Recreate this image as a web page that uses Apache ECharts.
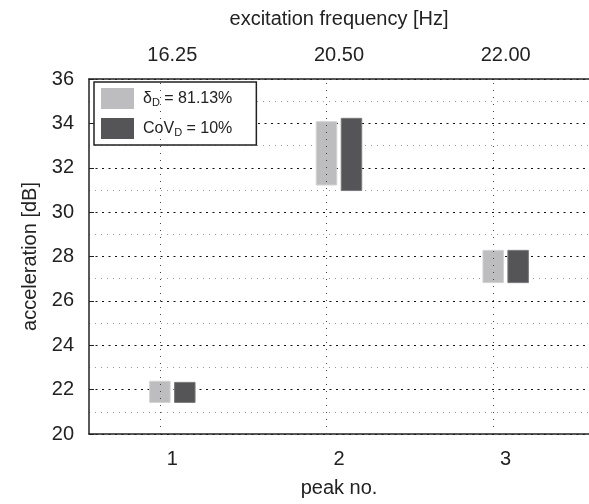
<!DOCTYPE html>
<html>
<head>
<meta charset="utf-8">
<script src="https://cdn.jsdelivr.net/npm/echarts@6/dist/echarts.min.js"></script>
<style>
html,body{margin:0;padding:0;background:#fff;}
#chart{width:589px;height:504px;}
</style>
</head>
<body>
<div id="chart"></div>
<script>
// 数据
var peakNo = ['1', '2', '3'];
var freqLabels = ['16.25', '20.50', '22.00'];
var lightLow = [21.4, 31.2, 26.8];
var lightHigh = [22.4, 34.1, 28.3];
var darkLow = [21.4, 30.95, 26.8];
var darkHigh = [22.35, 34.25, 28.3];

var lightName = 'delta';
var darkName = 'cov';

function span(lo, hi){
	var out = [];
	for(var i=0;i<lo.length;i++){
		out.push(+(hi[i]-lo[i]).toFixed(3));
	}
	return out;
}

var chart = echarts.init(document.getElementById('chart'));
var font = 'Liberation Sans, Arial, sans-serif';

var option = {
	animation: false,
	backgroundColor: '#fff',
	textStyle: {fontFamily: font},
	grid: {left: 89, top: 79, bottom: 70, right: -5},
	legend: {
		data: [lightName, darkName],
		orient: 'vertical',
		left: 94,
		top: 82,
		itemWidth: 33,
		itemHeight: 21,
		itemGap: 9,
		padding: [6, 24, 6, 7],
		backgroundColor: '#fff',
		borderColor: '#222',
		borderWidth: 1.5,
		borderRadius: 0,
		icon: 'rect',
		itemStyle: {borderWidth: 0},
		formatter: function(name){
			if(name==lightName) return '{m|δ}{s|D}{m| = 81.13%}';
			return '{m|CoV}{s|D}{m| = 10%}';
		},
		textStyle: {
			padding: [0, 0, 0, 4],
			rich: {
				m: {fontSize: 16, color: '#222', fontFamily: font},
				s: {fontSize: 11, color: '#222', fontFamily: font, padding: [9, 0, 0, 0]}
			}
		}
	},
	xAxis: [
		{
			type: 'category',
			data: peakNo,
			position: 'bottom',
			name: 'peak no.',
			nameLocation: 'middle',
			nameGap: 44,
			nameTextStyle: {fontSize: 20, color: '#222'},
			axisLine: {lineStyle: {color: '#222', width: 1.5}},
			axisTick: {inside: true, alignWithLabel: true, length: 5, lineStyle: {color: '#222'}},
			axisLabel: {fontSize: 20, color: '#222', margin: 15},
			splitLine: {show: false}
		},
		{
			type: 'category',
			data: freqLabels,
			position: 'top',
			name: 'excitation frequency [Hz]',
			nameLocation: 'middle',
			nameGap: 50,
			nameTextStyle: {fontSize: 20, color: '#222'},
			axisLine: {lineStyle: {color: '#222', width: 1.5}},
			axisTick: {inside: true, alignWithLabel: true, length: 5, lineStyle: {color: '#222'}},
			axisLabel: {fontSize: 20, color: '#222', margin: 14},
			splitLine: {show: false}
		}
	],
	yAxis: {
		type: 'value',
		min: 20,
		max: 36,
		interval: 2,
		name: 'acceleration [dB]',
		nameLocation: 'middle',
		nameGap: 42,
		nameTextStyle: {fontSize: 20, color: '#222'},
		axisLine: {show: true, lineStyle: {color: '#222', width: 1.5}},
		axisTick: {show: true, inside: true, length: 5, lineStyle: {color: '#222'}},
		axisLabel: {fontSize: 20, color: '#222', margin: 15},
		splitLine: {show: true, lineStyle: {color: '#111', width: 1.2, type: [2, 4.5]}},
		minorTick: {show: false, splitNumber: 2},
		minorSplitLine: {show: true, lineStyle: {color: '#999', width: 1, type: [1, 5]}}
	},
	series: [
		{
			name: 'lightBase',
			type: 'bar',
			stack: 'light',
			barWidth: 21.5,
			barGap: '16%',
			itemStyle: {color: 'rgba(0,0,0,0)'},
			silent: true,
			data: lightLow,
			markLine: {
				silent: true,
				symbol: 'none',
				label: {show: false},
				lineStyle: {color: '#444', width: 1, type: [1, 6]},
				data: peakNo.map(function(p){ return {xAxis: p}; })
			}
		},
		{
			name: lightName,
			type: 'bar',
			stack: 'light',
			barWidth: 21.5,
			itemStyle: {color: '#bdbdc0', borderColor: '#d2d2d4', borderWidth: 1},
			data: span(lightLow, lightHigh)
		},
		{
			name: 'darkBase',
			type: 'bar',
			stack: 'dark',
			barWidth: 21.5,
			itemStyle: {color: 'rgba(0,0,0,0)'},
			silent: true,
			data: darkLow
		},
		{
			name: darkName,
			type: 'bar',
			stack: 'dark',
			barWidth: 21.5,
			itemStyle: {color: '#555557', borderColor: '#7a7a7c', borderWidth: 1},
			data: span(darkLow, darkHigh)
		}
	]
};
chart.setOption(option);
</script>
</body>
</html>
